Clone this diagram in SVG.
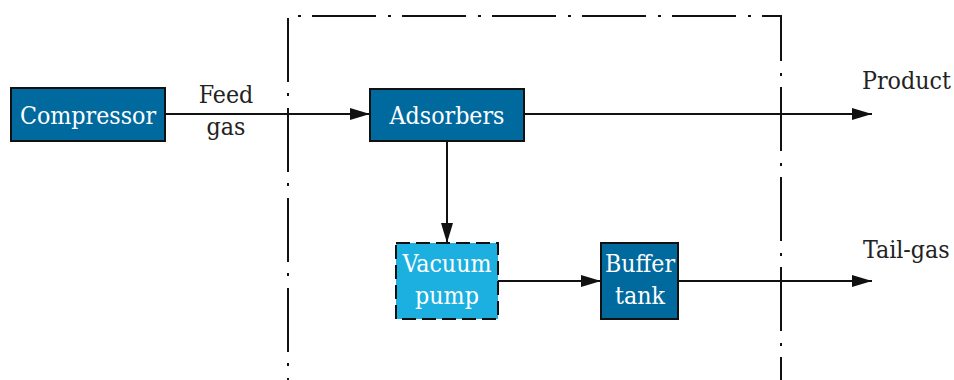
<svg xmlns="http://www.w3.org/2000/svg" width="954" height="380" viewBox="0 0 954 380">
<style>
.box{fill:#006a9e;stroke:#111;stroke-width:2}
.vac{fill:#1cb0e0;stroke:#111;stroke-width:2;stroke-dasharray:14 6}
.bt{font-family:"DejaVu Serif Condensed","DejaVu Serif",serif;font-stretch:condensed;font-size:24.7px;fill:#fff;text-anchor:middle}
.lb{font-family:"DejaVu Serif Condensed","DejaVu Serif",serif;font-stretch:condensed;font-size:24.7px;fill:#222}
.ln{stroke:#111;stroke-width:2;fill:none}
</style>
<defs>
<marker id="ah" markerWidth="20" markerHeight="12" refX="20" refY="6" orient="auto" markerUnits="userSpaceOnUse">
<path d="M0,0 L20,6 L0,12 Z" fill="#111"/>
</marker>
</defs>
<g id="boundary">
<path d="M288,382 L288,16 L781,16 L781,382" fill="none" stroke="#111" stroke-width="2" stroke-dasharray="64 12 3 11" stroke-dashoffset="60"/>
</g>
<g id="connectors">
<path class="ln" d="M165,114 L370,114" marker-end="url(#ah)"/>
<path class="ln" d="M524,114 L872,114" marker-end="url(#ah)"/>
<path class="ln" d="M447,141 L447,243" marker-end="url(#ah)"/>
<path class="ln" d="M498,281 L601,281" marker-end="url(#ah)"/>
<path class="ln" d="M678,281 L872,281" marker-end="url(#ah)"/>
</g>
<g id="compressor">
<rect class="box" x="11" y="88" width="154" height="53"/>
<text class="bt" x="88" y="124">Compressor</text>
</g>
<g id="feed-label">
<text class="lb" x="226" y="103" text-anchor="middle">Feed</text>
<text class="lb" x="226" y="135" text-anchor="middle">gas</text>
</g>
<g id="adsorbers">
<rect class="box" x="370" y="89" width="154" height="52"/>
<text class="bt" x="447" y="124">Adsorbers</text>
</g>
<g id="vacuum-pump">
<rect class="vac" x="396" y="243" width="102" height="76"/>
<text class="bt" x="447" y="272">Vacuum</text>
<text class="bt" x="447" y="304">pump</text>
</g>
<g id="buffer-tank">
<rect class="box" x="601" y="243" width="77" height="76"/>
<text class="bt" x="640" y="272">Buffer</text>
<text class="bt" x="640" y="304">tank</text>
</g>
<g id="outputs">
<text class="lb" x="862" y="89">Product</text>
<text class="lb" x="863" y="258">Tail-gas</text>
</g>
</svg>
